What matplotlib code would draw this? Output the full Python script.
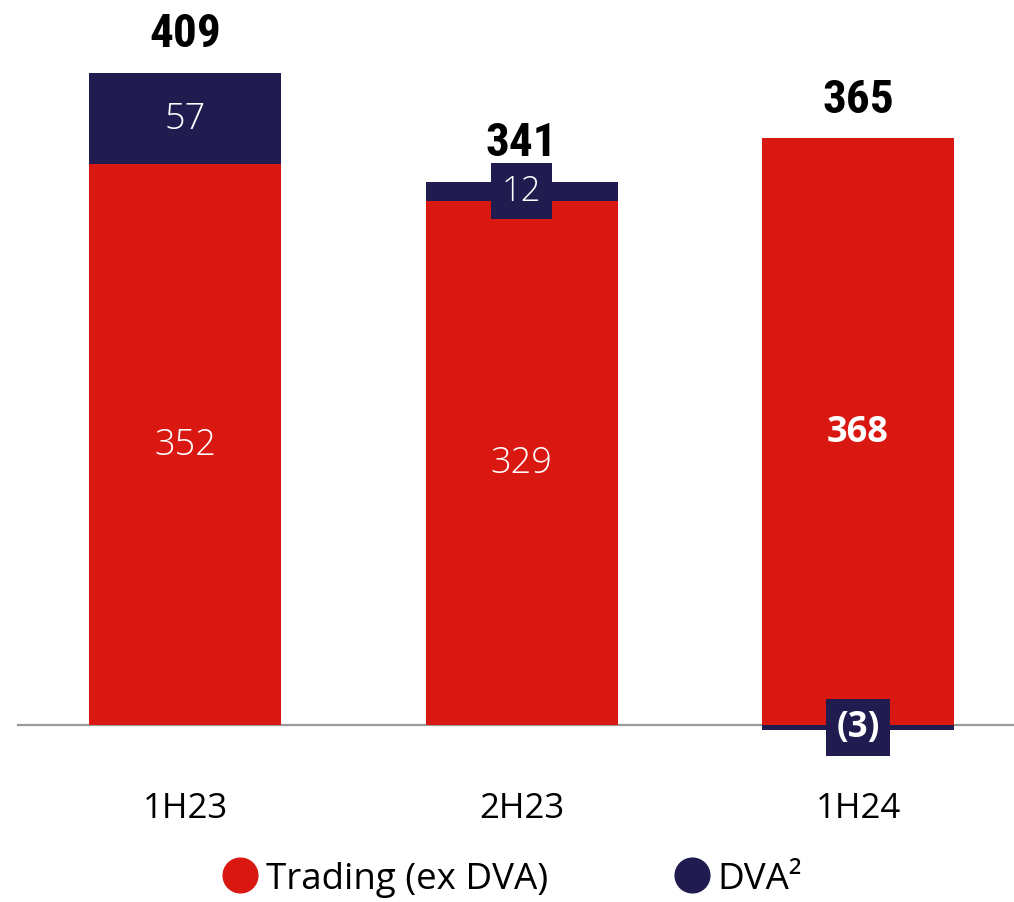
import matplotlib.pyplot as plt
from matplotlib.lines import Line2D

periods = ['1H23', '2H23', '1H24']
trading = [352, 329, 368]
dva = [57, 12, -3]
totals = [409, 341, 365]

RED = '#da1812'
NAVY = '#201c4f'
NARROW = ['Liberation Sans Narrow', 'DejaVu Sans Condensed', 'Roboto Condensed',
          'Roboto', 'DejaVu Sans']

fig = plt.figure(figsize=(10.14, 9.03), dpi=100)
ax = fig.add_axes([0, 0, 1, 1])
ax.set_xlim(-0.5498, 2.4636)
ax.set_ylim(-111.0, 455.5)
ax.axis('off')

x = list(range(len(periods)))
w = 0.5706

ax.plot([-0.496, 2.5], [0, 0], color='#9a9a9a', lw=1.6, zorder=1)
ax.bar(x, trading, width=w, color=RED, zorder=2)
dva_bottom = [t if d >= 0 else 0 for t, d in zip(trading, dva)]
ax.bar(x, dva, width=w, bottom=dva_bottom, color=NAVY, zorder=3)

# labels inside the red segments
for i, t in enumerate(trading):
    bold = i == 2
    ax.text(i, t / 2, str(t), ha='center', va='center', color='white',
            fontsize=26, fontweight='bold' if bold else 'light',
            family='Open Sans', zorder=5)

# DVA labels
for i, d in enumerate(dva):
    txt = str(d) if d >= 0 else '(%d)' % -d
    yc = dva_bottom[i] + d / 2
    if abs(d) > 30:
        ax.text(i, yc, txt, ha='center', va='center', color='white',
                fontsize=26, fontweight='light', family='Open Sans', zorder=5)
    else:
        ax.text(i, yc, txt, ha='center', va='center', color='white',
                fontsize=25,
                fontweight='bold' if d < 0 else 'light', family='Open Sans',
                zorder=5,
                bbox=dict(boxstyle='square,pad=0.3', fc=NAVY, ec='none'))

# totals on top
for i, tot in enumerate(totals):
    top = max(trading[i], trading[i] + max(dva[i], 0))
    ax.text(i, top + 25, str(tot), ha='center', va='center', color='black',
            fontsize=34, fontweight='bold', family=NARROW, zorder=5)

# category labels
for i, p in enumerate(periods):
    ax.text(i, -52, p, ha='center', va='center', color='black', fontsize=25,
            family='Open Sans')

handles = [
    Line2D([], [], marker='o', ls='none', color=RED, markersize=25),
    Line2D([], [], marker='o', ls='none', color=NAVY, markersize=25),
]
leg = fig.legend(handles, ['Trading (ex DVA)', 'DVA²'], ncol=2,
                 loc='center', bbox_to_anchor=(0.505, 0.026), frameon=False,
                 handletextpad=0.2, columnspacing=3.4, handlelength=1.0,
                 borderpad=0.2, prop={'family': 'Open Sans', 'size': 26.5})

fig.savefig('out.png', dpi=100)
